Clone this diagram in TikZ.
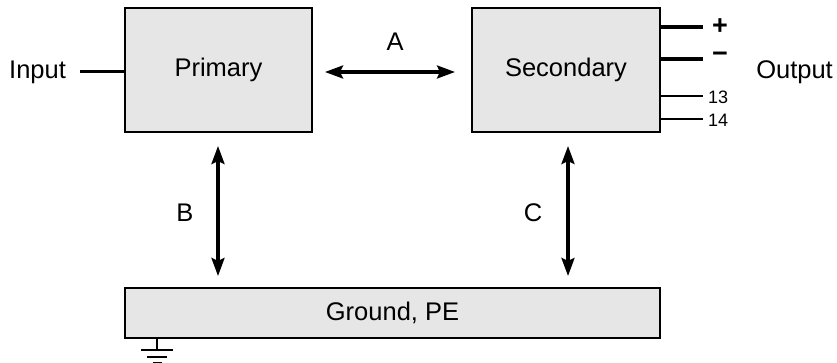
\documentclass[tikz,border=0pt]{standalone}
\usepackage{fontspec}
\setmainfont{Liberation Sans}
\usetikzlibrary{arrows.meta}
\definecolor{boxfill}{RGB}{230,230,230}
\tikzset{
  blk/.style={draw=black, line width=2pt, fill=boxfill, inner sep=0pt, font=\fontsize{25.5}{29}\selectfont},
  lbl/.style={inner sep=0pt, font=\fontsize{25.5}{29}\selectfont},
  small/.style={inner sep=0pt, font=\fontsize{18}{21}\selectfont},
  sign/.style={inner sep=0pt, font=\fontsize{27}{29}\selectfont\bfseries},
  arr/.style={line width=3.2pt, {Stealth[length=18pt,width=13pt,inset=3pt]}-{Stealth[length=18pt,width=13pt,inset=3pt]}},
  pinthick/.style={line width=3.5pt},
  pinthin/.style={line width=2pt},
  gnd/.style={line width=2pt}
}
\begin{document}
\begin{tikzpicture}[x=1pt,y=-1pt]
\useasboundingbox (0,0) rectangle (837,363);
\node[blk, minimum width=187pt, minimum height=124pt] (primary) at (218.5,70) {Primary};
\node[blk, minimum width=188pt, minimum height=124pt] (secondary) at (566,70) {Secondary};
\node[blk, minimum width=535pt, minimum height=50pt] (ground) at (392.5,313) {Ground, PE};
% Input
\node[lbl, anchor=west] (input) at (9,72) {Input};
\coordinate (inend) at (80,72);
\draw[line width=3pt] (inend) -- (primary.west |- inend);
% Output
\node[lbl, anchor=east] (output) at (833,72) {Output};
\coordinate (p1) at (703,27);
\coordinate (p2) at (703,59);
\coordinate (p3) at (703,96);
\coordinate (p4) at (703,119);
\draw[pinthick] (secondary.east |- p1) -- (p1);
\draw[pinthick] (secondary.east |- p2) -- (p2);
\draw[pinthin] (secondary.east |- p3) -- (p3);
\draw[pinthin] (secondary.east |- p4) -- (p4);
\node[sign] (plus) at (720,27) {+};
\node[sign] (minus) at (720,57) {−};
\node[small, anchor=west] (n13) at (708,97) {13};
\node[small, anchor=west] (n14) at (708,120) {14};
% A
\coordinate (a1) at (325,72);
\coordinate (a2) at (455,72);
\draw[arr] (a1) -- (a2);
\node[lbl] (la) at (395,42) {A};
% B
\coordinate (b1) at (218,146);
\coordinate (b2) at (218,276);
\draw[arr] (b1) -- (b2);
\node[lbl] (lb) at (185,213) {B};
% C
\coordinate (c1) at (568,146);
\coordinate (c2) at (568,276);
\draw[arr] (c1) -- (c2);
\node[lbl] (lc) at (533,213) {C};
% ground symbol
\coordinate (g0) at (157,338);
\coordinate (g1) at (157,350);
\draw[gnd] (g0) -- (g1);
\draw[gnd] ([xshift=-16pt]g1) -- ([xshift=16pt]g1);
\draw[gnd] (147,356.5) -- (167,356.5);
\draw[gnd] (152.5,362.5) -- (161.5,362.5);
\end{tikzpicture}
\end{document}
